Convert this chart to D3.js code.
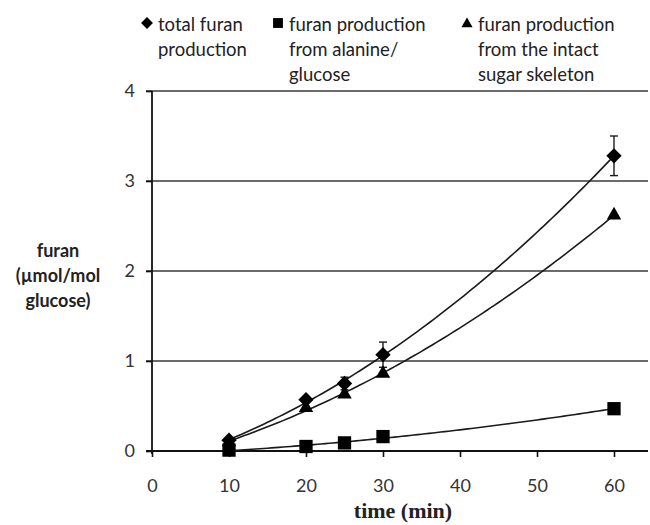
<!DOCTYPE html>
<html>
<head>
<meta charset="utf-8">
<script src="https://cdn.jsdelivr.net/npm/d3@7"></script>
<style>
  html, body { margin: 0; padding: 0; background: #fff; }
  svg { display: block; }
</style>
</head>
<body>
<svg id="chart" width="650" height="525"></svg>
<script>
// time points (min)
const times = [10, 20, 25, 30, 60];
// furan (µmol/mol glucose)
const totalFuran = [0.12, 0.57, 0.75, 1.07, 3.28];
const totalFuranErr = [0.02, 0.03, 0.07, 0.14, 0.22];
const alanineFuran = [0.01, 0.05, 0.09, 0.16, 0.47];
const sugarFuran = [0.10, 0.48, 0.63, 0.86, 2.62];

const xTicks = [0, 10, 20, 30, 40, 50, 60];
const yTicks = [0, 1, 2, 3, 4];

const legendItems = [
  { symbol: "diamond", lines: ["total furan", "production"] },
  { symbol: "square", lines: ["furan production", "from alanine/", "glucose"] },
  { symbol: "triangle", lines: ["furan production", "from the intact", "sugar skeleton"] }
];

const series = [
  { values: totalFuran, err: totalFuranErr, symbol: "diamond" },
  { values: sugarFuran, symbol: "triangle" },
  { values: alanineFuran, symbol: "square" }
];

const svg = d3.select("#chart");
const font = "Lato, 'Open Sans', sans-serif";

const x = d3.scaleLinear().domain([0, 60]).range([152, 614]);
const y = d3.scaleLinear().domain([0, 4]).range([451, 91]);

// horizontal gridlines
svg.append("g")
  .selectAll("line")
  .data(yTicks.filter(d => d > 0))
  .join("line")
  .attr("x1", 146).attr("x2", 648)
  .attr("y1", d => y(d)).attr("y2", d => y(d))
  .attr("stroke", "#3a3a3a").attr("stroke-width", 1.6);

// y axis
const yAxis = svg.append("g")
  .attr("transform", `translate(${x(0)},0)`)
  .call(d3.axisLeft(y).tickValues(yTicks).tickSize(6).tickPadding(11).tickFormat(d3.format("d")));
yAxis.select(".domain").attr("stroke", "#111").attr("stroke-width", 1.8).attr("d", `M0,${y(0) + 3}V${y(4)}`);
yAxis.selectAll(".tick line").attr("stroke", "#111").attr("stroke-width", 1.6);
yAxis.selectAll(".tick text")
  .attr("font-family", font).attr("font-size", 18).attr("fill", "#333");

// x axis
const xAxis = svg.append("g")
  .attr("transform", `translate(0,${y(0)})`)
  .call(d3.axisBottom(x).tickValues(xTicks).tickSize(6).tickPadding(22).tickFormat(d3.format("d")));
xAxis.select(".domain").attr("stroke", "#111").attr("stroke-width", 1.8).attr("d", `M146,0H648`);
xAxis.selectAll(".tick line").attr("stroke", "#111").attr("stroke-width", 1.6);
xAxis.selectAll(".tick text")
  .attr("font-family", font).attr("font-size", 18).attr("fill", "#333");

// quadratic least-squares trendline
function quadFit(xs, ys) {
  const n = xs.length;
  let s = [0, 0, 0, 0, 0], t = [0, 0, 0];
  for (let i = 0; i < n; i++) {
    let p = 1;
    for (let k = 0; k < 5; k++) { s[k] += p; if (k < 3) t[k] += p * ys[i]; p *= xs[i]; }
  }
  const A = [[s[0], s[1], s[2], t[0]], [s[1], s[2], s[3], t[1]], [s[2], s[3], s[4], t[2]]];
  for (let i = 0; i < 3; i++) {
    for (let j = i + 1; j < 3; j++) {
      const f = A[j][i] / A[i][i];
      for (let k = i; k < 4; k++) A[j][k] -= f * A[i][k];
    }
  }
  const c = [0, 0, 0];
  for (let i = 2; i >= 0; i--) {
    let v = A[i][3];
    for (let k = i + 1; k < 3; k++) v -= A[i][k] * c[k];
    c[i] = v / A[i][i];
  }
  return t0 => c[0] + c[1] * t0 + c[2] * t0 * t0;
}

const line = d3.line().x(d => x(d[0])).y(d => y(d[1]));
const samples = d3.range(10, 60.01, 0.5);
series.forEach(s => {
  const f = quadFit(times, s.values);
  svg.append("path")
    .attr("d", line(samples.map(t => [t, f(t)])))
    .attr("fill", "none").attr("stroke", "#1a1a1a").attr("stroke-width", 1.6);
});

// error bars
const eb = svg.append("g").attr("stroke", "#1a1a1a").attr("stroke-width", 1.4);
times.forEach((t, i) => {
  const v = totalFuran[i], e = totalFuranErr[i];
  eb.append("line").attr("x1", x(t)).attr("x2", x(t)).attr("y1", y(v - e)).attr("y2", y(v + e));
  [v - e, v + e].forEach(w => eb.append("line")
    .attr("x1", x(t) - 4).attr("x2", x(t) + 4).attr("y1", y(w)).attr("y2", y(w)));
});

// markers
function symbolPath(kind, scale) {
  if (kind === "diamond") return d3.symbol(d3.symbolDiamond2, 150 * scale)();
  if (kind === "square") return d3.symbol(d3.symbolSquare2, 225 * scale)();
  return d3.symbol(d3.symbolTriangle2, 150 * scale)();
}
series.forEach(s => {
  svg.append("g").selectAll("path")
    .data(times.map((t, i) => [t, s.values[i]]))
    .join("path")
    .attr("d", symbolPath(s.symbol, 1))
    .attr("transform", d => `translate(${x(d[0])},${y(d[1])})`)
    .attr("fill", "#000");
});

// legend
const legendX = [147, 278, 467];
legendItems.forEach((item, i) => {
  const g = svg.append("g");
  const sc = item.symbol === "square" ? 0.55 : 0.6;
  g.append("path")
    .attr("d", symbolPath(item.symbol, sc))
    .attr("transform", `translate(${legendX[i]},${item.symbol === "triangle" ? 24 : 23})`)
    .attr("fill", "#000");
  g.append("text")
    .attr("font-family", font).attr("font-size", 18.5).attr("fill", "#222")
    .selectAll("tspan")
    .data(item.lines)
    .join("tspan")
    .attr("x", legendX[i] + 11)
    .attr("y", (d, k) => 31 + k * 25)
    .text(d => d);
});

// axis titles
svg.append("text")
  .attr("x", 403).attr("y", 518)
  .attr("text-anchor", "middle")
  .attr("font-family", "'Liberation Serif', 'DejaVu Serif', serif")
  .attr("font-weight", "bold").attr("font-size", 22).attr("fill", "#222")
  .text("time (min)");

svg.append("text")
  .attr("text-anchor", "middle")
  .attr("font-family", font).attr("font-weight", "bold").attr("font-size", 18).attr("fill", "#222")
  .selectAll("tspan")
  .data(["furan", "(µmol/mol", "glucose)"])
  .join("tspan")
  .attr("x", 58)
  .attr("y", (d, k) => 257 + k * 25)
  .text(d => d);
</script>
</body>
</html>
